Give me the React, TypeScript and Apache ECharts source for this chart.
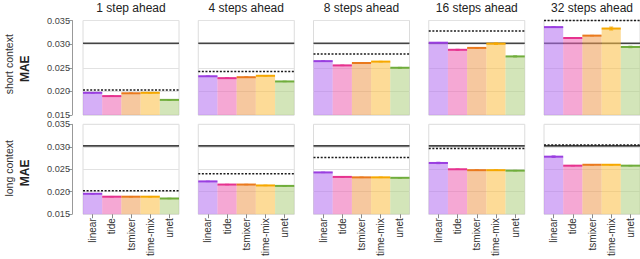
import React, { useEffect, useRef } from "react";
import * as echarts from "echarts";

const categories = ["linear", "tide", "tsmixer", "time-mix", "unet"];
const horizons = ["1 step ahead", "4 steps ahead", "8 steps ahead", "16 steps ahead", "32 steps ahead"];
const rowNames = ["short context", "long context"];
const yTicks = [0.015, 0.02, 0.025, 0.03, 0.035];

const shortMAE = [
  [0.0197, 0.019, 0.0196, 0.0197, 0.0182],
  [0.0232, 0.0228, 0.023, 0.0233, 0.0221],
  [0.0264, 0.0255, 0.026, 0.0263, 0.025],
  [0.0303, 0.0288, 0.0292, 0.0301, 0.0274],
  [0.0336, 0.0313, 0.0318, 0.0333, 0.0294],
];
const shortErr = [
  [0.00005, 0.00005, 0.00005, 0.00005, 0.00005],
  [0.00005, 0.00005, 0.00005, 0.00005, 0.00005],
  [0.00005, 0.00005, 0.00005, 0.00005, 0.00008],
  [0.00005, 0.0001, 0.00005, 0.00015, 0.0001],
  [0.00005, 0.00005, 0.00005, 0.0003, 0.00015],
];
const shortDashed = [0.0203, 0.0242, 0.0279, 0.0328, 0.035];
const shortSolid = [0.0302, 0.0302, 0.0302, 0.0302, 0.0302];

const longMAE = [
  [0.01955, 0.0189, 0.0189, 0.0189, 0.0185],
  [0.0223, 0.0216, 0.0216, 0.0214, 0.0213],
  [0.0243, 0.0233, 0.0232, 0.0232, 0.0231],
  [0.0264, 0.025, 0.0248, 0.0248, 0.0247],
  [0.0278, 0.0258, 0.026, 0.026, 0.0258],
];
const longErr = [
  [0.00005, 0.00005, 0.00005, 0.00005, 0.00005],
  [0.00005, 0.00005, 0.00005, 0.00005, 0.00005],
  [0.00005, 0.00005, 0.00005, 0.00005, 0.00005],
  [0.00015, 0.00005, 0.00005, 0.00005, 0.00005],
  [0.00015, 0.00005, 0.00005, 0.00005, 0.00005],
];
const longDashed = [0.0202, 0.024, 0.0276, 0.0296, 0.0304];
const longSolid = [0.0302, 0.0302, 0.0302, 0.0302, 0.0302];

const fills = [
  "rgba(179,110,240,0.55)",
  "rgba(237,97,177,0.55)",
  "rgba(239,155,80,0.55)",
  "rgba(251,190,66,0.55)",
  "rgba(175,208,128,0.55)",
];
const strokes = ["#9a3fe0", "#e6338f", "#ea7a1e", "#f6a800", "#70ad3c"];

const FONT = "'Liberation Sans', Arial, Helvetica, sans-serif";
const Y_MIN = 0.015;
const Y_MAX = 0.035;

export default function App() {
  const ref = useRef<HTMLDivElement>(null);
  useEffect(() => {
    if (!ref.current) return;
    const chart = echarts.init(ref.current, undefined, { renderer: "svg" });

    const rows = [
      { mae: shortMAE, err: shortErr, dashed: shortDashed, solid: shortSolid, top: 20.5, height: 94.5 },
      { mae: longMAE, err: longErr, dashed: longDashed, solid: longSolid, top: 124.3, height: 95 },
    ];

    const grids: any[] = [];
    const xAxes: any[] = [];
    const yAxes: any[] = [];
    const series: any[] = [];
    const graphics: any[] = [];

    rows.forEach((row, r) => {
      for (let c = 0; c < 5; c++) {
        const k = r * 5 + c;
        const left = 83 + c * 115.25;
        grids.push({
          left,
          top: row.top,
          width: 96,
          height: row.height,
          show: true,
          borderColor: "#dcdcdc",
          borderWidth: 1,
          backgroundColor: "#fff",
        });
        xAxes.push({
          type: "category",
          gridIndex: k,
          data: categories,
          boundaryGap: true,
          axisLine: { show: false },
          axisTick: {
            show: r === 1,
            alignWithLabel: true,
            length: 4,
            lineStyle: { color: "#888" },
          },
          axisLabel: {
            show: r === 1,
            rotate: 90,
            fontSize: 10,
            margin: 4,
            color: "#333",
            fontFamily: FONT,
          },
          splitLine: { show: false },
        });
        yAxes.push({
          type: "value",
          gridIndex: k,
          min: Y_MIN,
          max: Y_MAX,
          interval: 0.005,
          offset: c === 0 ? 11 : 0,
          axisLine: { show: c === 0, lineStyle: { color: "#999" } },
          axisTick: { show: c === 0, length: 4, lineStyle: { color: "#999" } },
          axisLabel: {
            show: c === 0,
            fontSize: 9.2,
            margin: 2,
            color: "#444",
            fontFamily: FONT,
            formatter: (v: number) => {
              const t = yTicks.find((x) => Math.abs(x - v) < 1e-9);
              return (t ?? v).toFixed(3);
            },
          },
          splitLine: { show: true, lineStyle: { color: "#e2e2e2", width: 1 } },
        });

        // reference lines (behind bars)
        series.push({
          type: "custom",
          xAxisIndex: k,
          yAxisIndex: k,
          z: 1,
          silent: true,
          data: [
            [0, row.solid[c], 0],
            [0, row.dashed[c], 1],
          ],
          renderItem: (params: any, api: any) => {
            const cs = params.coordSys;
            const y = api.coord([0, api.value(1)])[1];
            const dashed = api.value(2) === 1;
            return {
              type: "line",
              shape: { x1: cs.x, y1: y, x2: cs.x + cs.width, y2: y },
              style: dashed
                ? { stroke: "#1a1a1a", lineWidth: 1.5, lineDash: [2, 1.6] }
                : { stroke: "#444", lineWidth: 1.6 },
            };
          },
        });

        // bars
        series.push({
          type: "custom",
          xAxisIndex: k,
          yAxisIndex: k,
          z: 2,
          silent: true,
          data: categories.map((_, j) => [j, row.mae[c][j], row.err[c][j]]),
          renderItem: (params: any, api: any) => {
            const j = api.value(0);
            const v = api.value(1);
            const e = api.value(2);
            const top = api.coord([j, v]);
            const bot = api.coord([j, Y_MIN]);
            const w = api.size([1, 0])[0];
            const x0 = top[0] - w / 2;
            const eTop = api.coord([j, v + e])[1];
            const eBot = api.coord([j, v - e])[1];
            return {
              type: "group",
              children: [
                {
                  type: "rect",
                  shape: { x: x0, y: top[1], width: w, height: bot[1] - top[1] },
                  style: { fill: fills[j] },
                },
                {
                  type: "line",
                  shape: { x1: x0, y1: top[1], x2: x0 + w, y2: top[1] },
                  style: { stroke: strokes[j], lineWidth: 2 },
                },
                {
                  type: "line",
                  shape: { x1: top[0], y1: eTop, x2: top[0], y2: eBot },
                  style: { stroke: strokes[j], lineWidth: 1 },
                },
                {
                  type: "line",
                  shape: { x1: top[0] - 2, y1: eTop, x2: top[0] + 2, y2: eTop },
                  style: { stroke: strokes[j], lineWidth: 1 },
                },
                {
                  type: "line",
                  shape: { x1: top[0] - 2, y1: eBot, x2: top[0] + 2, y2: eBot },
                  style: { stroke: strokes[j], lineWidth: 1 },
                },
              ],
            };
          },
        });

        if (r === 0) {
          graphics.push({
            type: "text",
            x: left + 48,
            y: 7.5,
            style: {
              text: horizons[c],
              fill: "#222",
              font: `12px ${FONT}`,
              textAlign: "center",
              textVerticalAlign: "middle",
            },
          });
        }
      }

      const cy = row.top + row.height / 2;
      graphics.push({
        type: "text",
        x: 8.5,
        y: cy - 3.5,
        rotation: Math.PI / 2,
        style: {
          text: rowNames[r],
          fill: "#333",
          font: `10.5px ${FONT}`,
          textAlign: "center",
          textVerticalAlign: "middle",
        },
      });
      graphics.push({
        type: "text",
        x: 25,
        y: cy + 1,
        rotation: Math.PI / 2,
        style: {
          text: "MAE",
          fill: "#222",
          font: `bold 12px ${FONT}`,
          textAlign: "center",
          textVerticalAlign: "middle",
        },
      });
    });

    chart.setOption({
      animation: false,
      backgroundColor: "#fff",
      grid: grids,
      xAxis: xAxes,
      yAxis: yAxes,
      series,
      graphic: graphics,
    });
    return () => chart.dispose();
  }, []);

  return (
    <div
      ref={ref}
      style={{ position: "fixed", left: 0, top: 0, width: 640, height: 259 }}
    />
  );
}
